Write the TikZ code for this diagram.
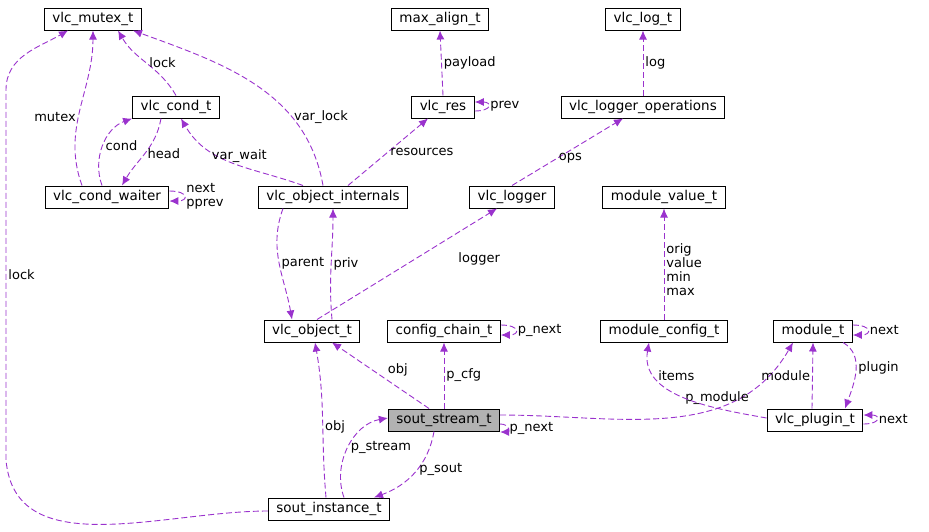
\documentclass[tikz,border=0pt]{standalone}
\usepackage{fontspec}
\setmainfont{DejaVu Sans}
\usetikzlibrary{arrows.meta}
\definecolor{edgecol}{HTML}{9A32CD}
\tikzset{
  cls/.style={draw=black, line width=1pt, fill=white, rectangle, minimum height=22pt, inner ysep=2pt, inner xsep=8pt, font=\fontsize{13.5}{14}\selectfont},
  edge/.style={draw=edgecol, line width=0.9pt, dash pattern=on 6pt off 3pt, -{Latex[length=9pt,width=8pt]}},
  lbl/.style={font=\fontsize{13}{14}\selectfont, align=left, inner sep=2pt}
}
\begin{document}
\begin{tikzpicture}[x=1pt, y=-1pt]
    \useasboundingbox (0,0) rectangle (929,531);

    % classes
    \node [cls] (mutex) at (93,19) {vlc\_mutex\_t};
    \node [cls] (maxal) at (440,19) {max\_align\_t};
    \node [cls] (log) at (643,19) {vlc\_log\_t};
    \node [cls] (cond) at (176,107) {vlc\_cond\_t};
    \node [cls] (res) at (443,107) {vlc\_res};
    \node [cls] (logops) at (643,107) {vlc\_logger\_operations};
    \node [cls] (waiter) at (107,197) {vlc\_cond\_waiter};
    \node [cls] (intern) at (333,197) {vlc\_object\_internals};
    \node [cls] (logger) at (512,197) {vlc\_logger};
    \node [cls] (modval) at (664,197) {module\_value\_t};
    \node [cls] (obj) at (312,331) {vlc\_object\_t};
    \node [cls] (chain) at (444,331) {config\_chain\_t};
    \node [cls] (modcfg) at (664,331) {module\_config\_t};
    \node [cls] (module) at (813,331) {module\_t};
    \node [cls, fill=black!30] (stream) at (444,420) {sout\_stream\_t};
    \node [cls] (plugin) at (815,420) {vlc\_plugin\_t};
    \node [cls] (inst) at (329,509) {sout\_instance\_t};

    % relations
    \draw[edge] (cond.north) to[out=120,in=-60] node [lbl, right, pos=0.5] {lock} ([xshift=25]mutex.south);
    \draw[edge] ([xshift=-25]waiter.north) to[out=110,in=-90] node [lbl, left, pos=0.45] {mutex} (mutex.south);
    \draw[edge] ([xshift=-5]waiter.north) to[out=110,in=200] node [lbl, right, pos=0.5] {cond} (cond.south west);
    \draw[edge] ([xshift=-15]cond.south) to[out=-100,in=60] node [lbl, right, pos=0.5] {head} ([xshift=15]waiter.north);
    \draw[edge] ([yshift=6]waiter.east) to[out=0,in=0,looseness=5] node [lbl, right] {next\\pprev} ([yshift=-4]waiter.east);
    \draw[edge] ([xshift=-10]intern.north) to[out=100,in=-20] node [lbl, right, pos=0.3] {var\_lock} ([xshift=40]mutex.south);
    \draw[edge] ([xshift=-30]intern.north) to[out=160,in=-60] node [lbl, above, pos=0.45] {var\_wait} ([xshift=5]cond.south);
    \draw[edge] ([xshift=15]intern.north) -- node [lbl, right, pos=0.5] {resources} ([xshift=-15]res.south);
    \draw[edge] (res.north) -- node [lbl, right] {payload} (maxal.south);
    \draw[edge] ([yshift=-4]res.east) to[out=0,in=0,looseness=5] node [lbl, right] {prev} ([yshift=5]res.east);
    \draw[edge] (logops.north) -- node [lbl, right] {log} (log.south);
    \draw[edge] (logger.north) -- node [lbl, right, pos=0.4] {ops} ([xshift=-20]logops.south);
    \draw[edge] ([xshift=20]obj.north) to[out=95,in=-90] node [lbl, right, pos=0.5] {priv} (intern.south);
    \draw[edge] ([xshift=-50]intern.south) to[out=-110,in=100] node [lbl, right, pos=0.5] {parent} ([xshift=-20]obj.north);
    \draw[edge] ([xshift=5]obj.north) -- node [lbl, right, pos=0.55, xshift=40] {logger} ([xshift=-15]logger.south);
    \draw[edge] (modcfg.north) -- node [lbl, right, pos=0.45] {orig\\value\\min\\max} (modval.south);
    \draw[edge] ([yshift=6]chain.east) to[out=0,in=0,looseness=5] node [lbl, right] {p\_next} ([yshift=-4]chain.east);
    \draw[edge] ([yshift=6]module.east) to[out=0,in=0,looseness=5] node [lbl, right] {next} ([yshift=-4]module.east);
    \draw[edge] ([xshift=-15]stream.north) -- node [lbl, pos=0.45, above right] {obj} ([xshift=20]obj.south);
    \draw[edge] (stream.north) -- node [lbl, right] {p\_cfg} (chain.south);
    \draw[edge] ([yshift=5]stream.east) to[out=0,in=-120] node [lbl, pos=0.8, below left] {p\_module} ([xshift=-20]module.south);
    \draw[edge] ([yshift=-4]stream.east) to[out=0,in=0,looseness=3] node [lbl, right] {p\_next} ([yshift=-12]stream.east);
    \draw[edge] ([yshift=2]plugin.west) to[out=170,in=-100] node [lbl, pos=0.75, right] {items} ([xshift=-15]modcfg.south);
    \draw[edge] ([xshift=-3]plugin.north) -- node [lbl, left] {module} (module.south);
    \draw[edge] ([xshift=30]module.south) to[out=-30,in=70] node [lbl, right, pos=0.45] {plugin} ([xshift=30]plugin.north);
    \draw[edge] ([yshift=-4]plugin.east) to[out=0,in=0,looseness=5] node [lbl, right] {next} ([yshift=5]plugin.east);
    \draw[edge] ([xshift=-3]inst.north) to[out=95,in=-80] node [lbl, right, pos=0.45] {obj} ([xshift=3]obj.south);
    \draw[edge] ([xshift=15]inst.north) to[out=110,in=190] node [lbl, right, pos=0.5] {p\_stream} ([yshift=2]stream.west);
    \draw[edge] ([xshift=-10]stream.south) to[out=-100,in=20] node [lbl, right, pos=0.45] {p\_sout} ([xshift=45]inst.north);
    \draw[edge] ([yshift=-2]inst.west) to[out=180,in=-85] (6,460) -- node [lbl, right, pos=0.5] {lock} (6,90) to[out=90,in=210] ([xshift=-25]mutex.south);
\end{tikzpicture}
\end{document}
